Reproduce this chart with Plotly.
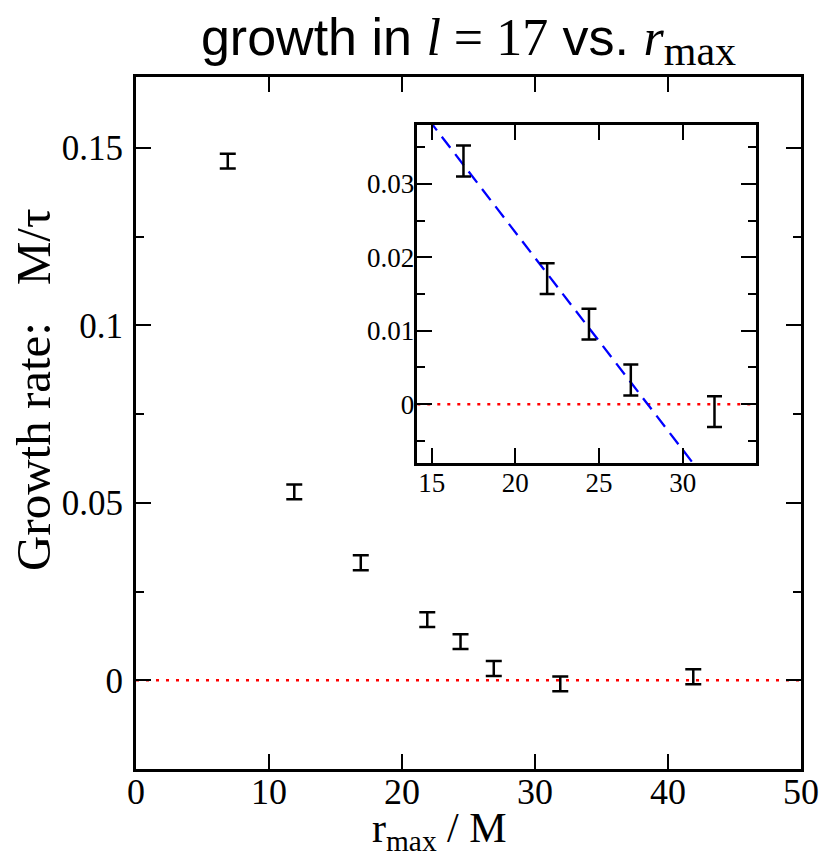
import plotly.graph_objects as go

# Growth rate of the l=17 mode for several outer-boundary radii r_max
r_max = [6.9, 11.9, 16.9, 21.9, 24.4, 26.9, 31.9, 41.9]
growth = [0.1463, 0.0531, 0.0331, 0.0171, 0.0109, 0.0033, -0.0010, 0.0010]
growth_err = [0.0021, 0.0021, 0.0021, 0.0021, 0.0021, 0.0021, 0.0021, 0.0021]

# Points shown in the zoomed inset
inset_r = [16.9, 21.9, 24.4, 26.9, 31.9]
inset_growth = [0.0331, 0.0171, 0.0109, 0.0033, -0.0010]
inset_err = [0.0021, 0.0021, 0.0021, 0.0021, 0.0021]

# Linear fit through the inner points: growth = fit_a + fit_b * r
fit_a = 0.0826
fit_b = -0.00296
fit_r = [14.0, 34.5]
fit_growth = [fit_a + fit_b * r for r in fit_r]

main_x_range = [0, 50]
main_y_range = [-0.025, 0.17]
inset_x_range = [14.14, 34.38]
inset_y_range = [-0.008, 0.038]

SERIF = "Liberation Serif"
MATH = "font-family:'Liberation Serif', serif;font-size:52px"
SUB = "font-size:42px"
NB = "\u00a0"

fig = go.Figure()

# zero reference lines
fig.add_trace(go.Scatter(x=main_x_range, y=[0, 0], mode="lines",
                         line=dict(color="#ff0000", width=2.5, dash="3px,7px"),
                         xaxis="x", yaxis="y", hoverinfo="skip"))
fig.add_trace(go.Scatter(x=r_max, y=growth, mode="markers",
                         marker=dict(color="rgba(0,0,0,0)", size=1),
                         error_y=dict(type="data", array=growth_err, visible=True,
                                      color="black", thickness=2.5, width=8),
                         xaxis="x", yaxis="y"))

fig.add_trace(go.Scatter(x=inset_x_range, y=[0, 0], mode="lines",
                         line=dict(color="#ff0000", width=2.5, dash="3px,7px"),
                         xaxis="x2", yaxis="y2", hoverinfo="skip"))
fig.add_trace(go.Scatter(x=fit_r, y=fit_growth, mode="lines",
                         line=dict(color="#0000ff", width=2.3, dash="14px,8px"),
                         xaxis="x2", yaxis="y2", hoverinfo="skip"))
fig.add_trace(go.Scatter(x=inset_r, y=inset_growth, mode="markers",
                         marker=dict(color="rgba(0,0,0,0)", size=1),
                         error_y=dict(type="data", array=inset_err, visible=True,
                                      color="black", thickness=2.5, width=7.5),
                         xaxis="x2", yaxis="y2"))

axis_common = dict(showline=True, linecolor="black", mirror="ticks",
                   showgrid=False, zeroline=False, ticks="inside",
                   tickcolor="black", automargin=False)

fig.update_layout(
    width=830, height=866,
    margin=dict(l=136, r=29, t=77, b=97),
    paper_bgcolor="white", plot_bgcolor="white",
    showlegend=False,
    font=dict(family=SERIF, color="black"),
    title=dict(
        text=(f'growth in <span style="{MATH}"><i>l</i> = 17</span>'
              f' vs. <span style="{MATH}"><i>r</i><sub><span style="{SUB}">max</span></sub></span>'),
        font=dict(family="Liberation Sans", size=52, color="black"),
        x=0.5, xref="paper", xanchor="center",
        y=0.958, yref="container", yanchor="middle"),
    xaxis=dict(domain=[0, 1], range=main_x_range, dtick=10, tick0=0,
               linewidth=3, ticklen=15, tickwidth=2,
               tickfont=dict(size=36, family=SERIF),
               ticklabelstandoff=-11,
               **axis_common),
    yaxis=dict(domain=[0, 1], range=main_y_range, dtick=0.05, tick0=0,
               linewidth=3, ticklen=15, tickwidth=2,
               tickfont=dict(size=35, family=SERIF),
               ticklabelstandoff=3,
               minor=dict(ticks="inside", ticklen=8, tickwidth=2, dtick=0.025,
                          tick0=0, tickcolor="black"),
               **axis_common),
    xaxis2=dict(domain=[0.423, 0.9323], range=inset_x_range, dtick=5, tick0=15,
                anchor="y2", linewidth=2.5, ticklen=15, tickwidth=2,
                tickfont=dict(size=27, family=SERIF), ticklabelstandoff=-6,
                **axis_common),
    yaxis2=dict(domain=[0.4422, 0.9306], range=inset_y_range, dtick=0.01, tick0=0,
                anchor="x2", linewidth=2.5, ticklen=15, tickwidth=2,
                tickfont=dict(size=27, family=SERIF), ticklabelstandoff=-5,
                minor=dict(ticks="inside", ticklen=8, tickwidth=2, dtick=0.005,
                           tick0=0, tickcolor="black"),
                **axis_common),
    annotations=[
        dict(text="r<sub>max</sub> / M", xref="paper", yref="paper",
             x=0.457, y=-0.09, xanchor="center", yanchor="middle",
             showarrow=False, font=dict(size=42, family=SERIF)),
        dict(text=f"Growth rate:{NB}{NB}{NB}M/\u03c4", xref="paper", yref="paper",
             x=-0.155, y=0.549, xanchor="center", yanchor="middle",
             textangle=-90, showarrow=False, font=dict(size=49, family=SERIF)),
    ],
)

fig.write_html("out.html")
